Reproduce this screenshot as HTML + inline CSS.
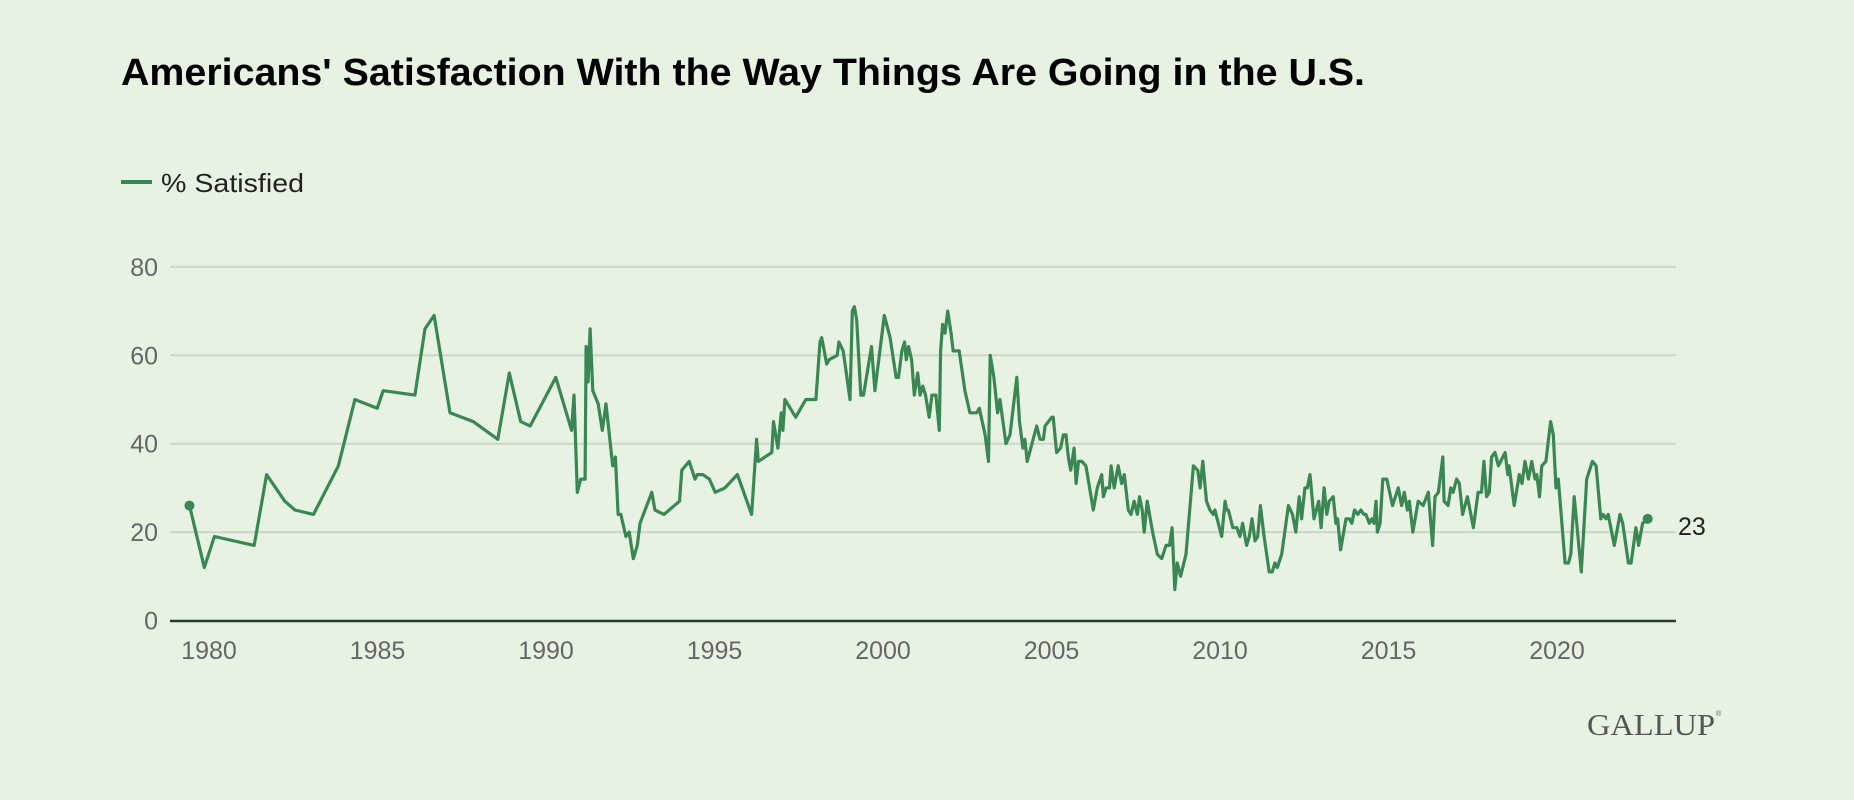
<!DOCTYPE html>
<html><head><meta charset="utf-8">
<style>
html,body{margin:0;padding:0;background:#e7f2e3;}
svg{display:block;}
</style></head>
<body>
<svg id="chart" width="1854" height="800" viewBox="0 0 1854 800" xmlns="http://www.w3.org/2000/svg">
<rect x="0" y="0" width="1854" height="800" fill="#e7f2e3"/>
<text x="121" y="85" font-family="Liberation Sans, sans-serif" font-weight="bold" font-size="38" fill="#000" textLength="1244" lengthAdjust="spacingAndGlyphs">Americans' Satisfaction With the Way Things Are Going in the U.S.</text>
<g>
<line x1="121" y1="182" x2="152" y2="182" stroke="#3a8753" stroke-width="4"/>
<text x="161" y="192" font-family="Liberation Sans, sans-serif" font-size="26" fill="#222" textLength="143" lengthAdjust="spacingAndGlyphs">% Satisfied</text>
</g>
<g id="grid"></g>
<g id="yticks"></g>
<g id="xticks"></g>
<line x1="170" y1="621" x2="1676" y2="621" stroke="#2d3a2f" stroke-width="2.5"/>
<g id="series"></g>
<text x="1587" y="735" font-family="Liberation Serif, serif" font-size="31" fill="#555" textLength="128" lengthAdjust="spacingAndGlyphs">GALLUP</text>
<text x="1716" y="716" font-family="Liberation Sans, sans-serif" font-size="7" fill="#555">®</text>
</svg>
<script>
const yTicks = [0, 20, 40, 60, 80];
const xTicks = [1980, 1985, 1990, 1995, 2000, 2005, 2010, 2015, 2020];
const years = [1979.42,1979.86,1980.16,1981.34,1981.71,1982.25,1982.55,1983.1,1983.84,1984.33,1984.99,1985.17,1986.11,1986.41,1986.68,1987.15,1987.84,1988.57,1988.91,1989.25,1989.53,1990.29,1990.76,1990.83,1990.93,1991.03,1991.16,1991.19,1991.25,1991.31,1991.39,1991.55,1991.67,1991.78,1991.98,1992.06,1992.14,1992.22,1992.37,1992.47,1992.59,1992.71,1992.79,1993.14,1993.23,1993.5,1993.96,1994.03,1994.25,1994.42,1994.49,1994.65,1994.85,1995.02,1995.31,1995.68,1996.1,1996.25,1996.3,1996.7,1996.75,1996.88,1996.98,1997.03,1997.09,1997.41,1997.71,1998.01,1998.13,1998.18,1998.33,1998.4,1998.64,1998.69,1998.82,1999.02,1999.09,1999.15,1999.22,1999.34,1999.42,1999.66,1999.76,2000.04,2000.21,2000.39,2000.46,2000.56,2000.64,2000.69,2000.76,2000.85,2000.93,2001.03,2001.1,2001.18,2001.26,2001.37,2001.45,2001.57,2001.67,2001.71,2001.77,2001.84,2001.92,2002.02,2002.08,2002.26,2002.43,2002.58,2002.78,2002.86,2003.03,2003.13,2003.18,2003.29,2003.4,2003.47,2003.65,2003.77,2003.97,2004.05,2004.15,2004.21,2004.28,2004.56,2004.66,2004.76,2004.81,2005.01,2005.05,2005.15,2005.27,2005.35,2005.43,2005.5,2005.57,2005.67,2005.73,2005.8,2005.9,2006.02,2006.24,2006.36,2006.49,2006.54,2006.62,2006.72,2006.77,2006.86,2006.98,2007.08,2007.16,2007.28,2007.36,2007.45,2007.55,2007.61,2007.69,2007.75,2007.84,2008.0,2008.14,2008.27,2008.4,2008.5,2008.58,2008.66,2008.73,2008.83,2008.99,2009.21,2009.34,2009.41,2009.49,2009.6,2009.7,2009.8,2009.85,2010.05,2010.15,2010.2,2010.25,2010.38,2010.5,2010.59,2010.67,2010.79,2010.87,2010.95,2011.04,2011.12,2011.2,2011.31,2011.46,2011.55,2011.63,2011.7,2011.83,2012.03,2012.15,2012.25,2012.35,2012.42,2012.52,2012.59,2012.67,2012.79,2012.93,2013.0,2013.09,2013.17,2013.24,2013.36,2013.44,2013.49,2013.58,2013.74,2013.84,2013.91,2013.99,2014.09,2014.18,2014.27,2014.33,2014.43,2014.5,2014.57,2014.63,2014.67,2014.75,2014.83,2014.95,2015.12,2015.29,2015.39,2015.47,2015.56,2015.62,2015.72,2015.88,2016.03,2016.18,2016.31,2016.38,2016.48,2016.61,2016.65,2016.77,2016.85,2016.92,2017.02,2017.1,2017.2,2017.34,2017.52,2017.66,2017.76,2017.83,2017.91,2017.99,2018.06,2018.16,2018.26,2018.46,2018.54,2018.58,2018.73,2018.88,2018.96,2019.05,2019.15,2019.25,2019.35,2019.4,2019.48,2019.55,2019.67,2019.81,2019.89,2019.97,2020.04,2020.24,2020.34,2020.41,2020.51,2020.72,2020.88,2021.05,2021.16,2021.3,2021.37,2021.45,2021.52,2021.7,2021.87,2021.95,2022.12,2022.2,2022.34,2022.42,2022.54,2022.69];
const satisfied = [26,12,19,17,33,27,25,24,35,50,48,52,51,66,69,47,45,41,56,45,44,55,43,51,29,32,32,62,54,66,52,49,43,49,35,37,24,24,19,20,14,17,22,29,25,24,27,34,36,32,33,33,32,29,30,33,24,41,36,38,45,39,47,43,50,46,50,50,63,64,58,59,60,63,61,50,70,71,68,51,51,62,52,69,64,55,55,61,63,59,62,59,51,56,51,53,51,46,51,51,43,61,67,65,70,65,61,61,52,47,47,48,42,36,60,55,47,50,40,42,55,45,39,41,36,44,41,41,44,46,46,38,39,42,42,37,34,39,31,36,36,35,25,30,33,28,30,30,35,30,35,31,33,25,24,27,24,28,25,20,27,20,15,14,17,17,21,7,13,10,15,35,34,30,36,27,25,24,25,19,27,25,25,21,21,19,22,17,19,23,18,19,26,19,11,11,13,12,15,26,24,20,28,23,30,30,33,23,27,21,30,24,27,28,22,23,16,23,23,22,25,24,25,24,24,22,23,22,27,20,22,32,32,26,30,26,29,25,27,20,27,26,29,17,28,29,37,27,26,30,29,32,31,24,28,21,29,29,36,28,29,37,38,35,38,33,35,26,33,31,36,32,36,32,33,28,35,36,45,42,30,32,13,13,15,28,11,32,36,35,23,24,23,24,17,24,22,13,13,21,17,22,23];
const lastLabel = "23";

const NS = "http://www.w3.org/2000/svg";
function xScale(yr){ return 209 + (yr - 1980) * 33.7; }
function yScale(v){ return 620.5 - v * 4.42; }
function mk(tag, attrs, parent){ const e = document.createElementNS(NS, tag); for (const k in attrs) e.setAttribute(k, attrs[k]); parent.appendChild(e); return e; }

const grid = document.getElementById('grid');
const yt = document.getElementById('yticks');
yTicks.forEach(v => {
  if (v > 0) {
    const gl = mk('line', {x1:170, x2:1676, y1:yScale(v), y2:yScale(v), stroke:'#cbd6c7', 'stroke-width':2}, grid);
    
    
  }
  const t = mk('text', {x:158, y:yScale(v)+9, 'text-anchor':'end', 'font-family':'Liberation Sans, sans-serif', 'font-size':25, fill:'#666'}, yt);
  t.textContent = v;
  
  
});
const xt = document.getElementById('xticks');
xTicks.forEach(yr => {
  const t = mk('text', {x:xScale(yr), y:659, 'text-anchor':'middle', 'font-family':'Liberation Sans, sans-serif', 'font-size':25, fill:'#666'}, xt);
  t.textContent = yr;
  
  
});
const s = document.getElementById('series');
const d = years.map((yr,i) => (i ? 'L' : 'M') + xScale(yr).toFixed(1) + ' ' + yScale(satisfied[i]).toFixed(1)).join(' ');
const path = mk('path', {d:d, fill:'none', stroke:'#3a8753', 'stroke-width':3.2, 'stroke-linejoin':'round'}, s);


const n = years.length - 1;
const c1 = mk('circle', {cx:xScale(years[0]), cy:yScale(satisfied[0]), r:5, fill:'#3a8753'}, s);


const c2 = mk('circle', {cx:xScale(years[n]), cy:yScale(satisfied[n]), r:5, fill:'#3a8753'}, s);


const lbl = mk('text', {x:1678, y:yScale(satisfied[n])+16, 'font-family':'Liberation Sans, sans-serif', 'font-size':25, fill:'#222'}, s);
lbl.textContent = lastLabel;


</script>
</body></html>
